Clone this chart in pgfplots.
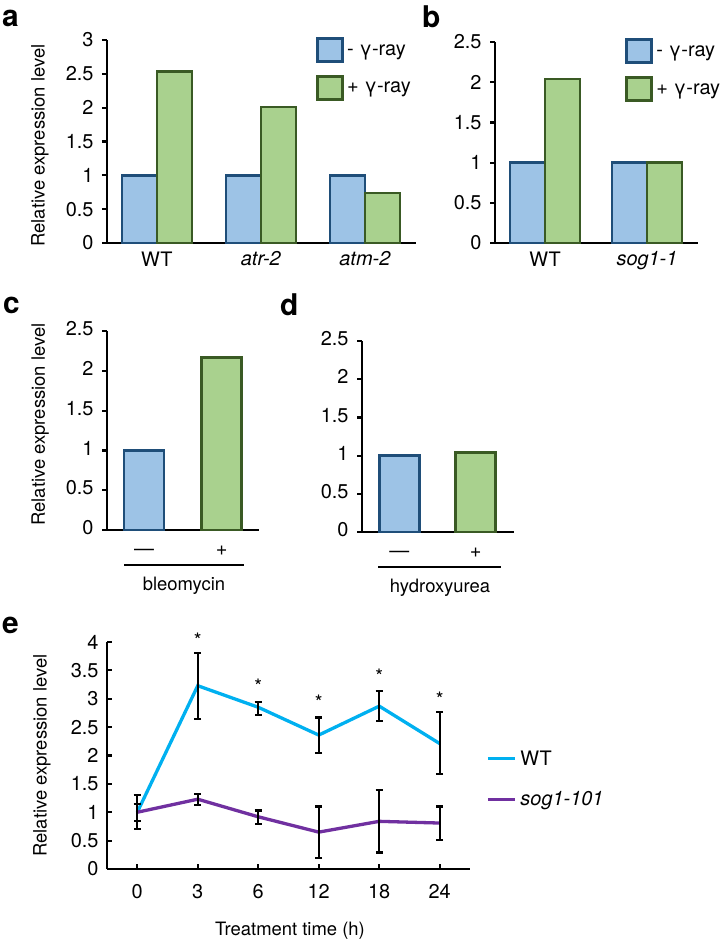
\documentclass[border=0pt]{standalone}
\usepackage{pgfplots}
\pgfplotsset{compat=1.18}
\usepackage{pgfplotstable}
\usepackage{fontspec}
\setmainfont{TeX Gyre Heros}

\definecolor{barblue}{HTML}{9DC3E6}
\definecolor{edgeblue}{HTML}{1F4E79}
\definecolor{bargreen}{HTML}{A9D18E}
\definecolor{edgegreen}{HTML}{3A5A24}
\definecolor{wtcyan}{HTML}{00B0F0}
\definecolor{sogpurple}{HTML}{7030A0}

\newcommand{\lbl}{\fontsize{18.5}{22}\selectfont}
\newcommand{\tck}{\fontsize{20}{24}\selectfont}
\newcommand{\panelfont}{\bfseries\fontsize{30}{32}\selectfont}

% time course: index, mean, error up, error down
\pgfplotstableread{
t y ep em
0 1.00 0.15 0.15
1 3.23 0.58 0.58
2 2.85 0.09 0.14
3 2.36 0.31 0.31
4 2.87 0.27 0.26
5 2.21 0.56 0.54
}\wtdata
\pgfplotstableread{
t y ep em
0 1.00 0.30 0.29
1 1.23 0.09 0.10
2 0.92 0.11 0.13
3 0.65 0.45 0.45
4 0.84 0.55 0.55
5 0.81 0.29 0.30
}\sogdata

\pgfplotsset{
  panel/.style={
    scale only axis, anchor=south west,
    axis x line*=bottom, axis y line*=left,
    axis line style={line width=2.8bp, black},
    every tick/.style={black, line width=2.2bp},
    major tick length=5bp,
    ymin=0, clip=false,
    /pgf/number format/assume math mode=true,
    tick label style={font=\tck},
    label style={font=\lbl},
    yticklabel style={xshift=-5bp},
  },
  bar panel/.style={
    panel, ybar, tick align=outside,
    major x tick style={draw=none},
    bar width=35bp,
  },
  minus bar/.style={fill=barblue, draw=edgeblue, line width=2.8bp},
  plus bar/.style={fill=bargreen, draw=edgegreen, line width=2.8bp},
  bar key/.style={
    legend image code/.code={\draw[##1] (0bp,-11bp) rectangle (25bp,12bp);},
    legend style={draw=none, fill=none, font=\tck, inner sep=0pt,
      row sep=12bp, legend cell align=left,
      nodes={inner sep=3.5bp}},
  },
  trace key/.style={
    legend image code/.code={\draw[##1] (0bp,0bp) -- (27bp,0bp);},
    legend style={draw=none, fill=none, font=\tck, inner sep=0pt,
      row sep=17bp, legend cell align=left, nodes={inner sep=4bp}},
  },
}

\begin{document}
\begin{tikzpicture}
\useasboundingbox (0bp,0bp) rectangle (724bp,-944bp);

% ---- a: gamma-ray response in checkpoint mutants
\begin{axis}[bar panel, at={(107bp,-243bp)}, width=309bp, height=203bp,
  xmin=-0.48, xmax=2.49, ymax=3, ytick={0,0.5,...,3},
  xtick={0,1,2}, xticklabels={WT,\textit{atr-2},\textit{atm-2}},
  ylabel={Relative expression level},
  ylabel style={at={(axis description cs:-0.217,0.48)}, anchor=center},
  bar key, legend style={at={(0.675,1.015)}, anchor=north west}]
\addplot[minus bar, bar shift=-17.5bp] coordinates {(0,1) (1,1) (2,1)};
\addlegendentry{- γ-ray}
\addplot[plus bar, bar shift=17.5bp] coordinates {(0,2.54) (1,2.01) (2,0.74)};
\addlegendentry{+ γ-ray}
\end{axis}

% ---- b: sog1-1
\begin{axis}[bar panel, at={(495bp,-243bp)}, width=203bp, height=201bp,
  xmin=-0.49, xmax=1.5, ymax=2.5, ytick={0,0.5,...,2.5},
  xtick={0,1}, xticklabels={WT,\textit{sog1-1}},
  bar key, legend style={at={(0.64,1.02)}, anchor=north west}]
\addplot[minus bar, bar shift=-17.5bp] coordinates {(0,1) (1,1)};
\addlegendentry{- γ-ray}
\addplot[plus bar, bar shift=17.5bp] coordinates {(0,2.04) (1,1.0)};
\addlegendentry{+ γ-ray}
\end{axis}

% ---- c: bleomycin
\begin{axis}[bar panel, at={(107bp,-530bp)}, width=152bp, height=199bp,
  bar width=40bp,
  xmin=-0.477, xmax=1.48, ymax=2.5, ytick={0,0.5,...,2.5},
  xtick={0,1}, xticklabels={—,+}, typeset ticklabels with strut,
  ylabel={Relative expression level},
  ylabel style={at={(axis description cs:-0.44,0.53)}, anchor=center}]
\addplot[minus bar, bar shift=0pt] coordinates {(0,1)};
\addplot[plus bar, bar shift=0pt] coordinates {(1,2.17)};
\end{axis}

% ---- d: hydroxyurea
\begin{axis}[bar panel, at={(362bp,-532bp)}, width=152bp, height=191bp,
  bar width=40bp,
  xmin=-0.49, xmax=1.5, ymax=2.5, ytick={0,0.5,...,2.5},
  xtick={0,1}, xticklabels={—,+}, typeset ticklabels with strut]
\addplot[minus bar, bar shift=0pt] coordinates {(0,1)};
\addplot[plus bar, bar shift=0pt] coordinates {(1,1.04)};
\end{axis}

% treatment brackets under c and d
\draw[line width=2.2bp] (124bp,-565bp) -- (244bp,-565bp);
\node[font=\lbl] at (184bp,-586bp) {bleomycin};
\draw[line width=2.2bp] (378bp,-567bp) -- (501bp,-567bp);
\node[font=\lbl] at (440bp,-588bp) {hydroxyurea};

% ---- e: time course after treatment
\begin{axis}[panel, at={(107bp,-869bp)}, width=363bp, height=227bp,
  tick align=inside,
  xmin=-0.5, xmax=5.5, ymax=4, ytick={0,0.5,...,4},
  xtick={0,...,5}, xticklabels={0,3,6,12,18,24},
  xticklabel style={yshift=-12bp},
  xlabel={Treatment time (h)},
  xlabel style={at={(axis description cs:0.504,-0.27)}, anchor=center},
  ylabel={Relative expression level},
  ylabel style={at={(axis description cs:-0.179,0.5)}, anchor=center},
  trace key, legend style={at={(1.044,0.397)}, anchor=west}]
\addplot[wtcyan, line width=3.3bp, mark=none,
  error bars/.cd, y dir=both, y explicit,
  error bar style={black, line width=2.2bp},
  error mark options={black, rotate=90, mark size=3.5bp, line width=2.2bp}]
  table[x=t, y=y, y error plus=ep, y error minus=em] {\wtdata};
\addlegendentry{WT}
\addplot[sogpurple, line width=3.3bp, mark=none,
  error bars/.cd, y dir=both, y explicit,
  error bar style={black, line width=2.2bp},
  error mark options={black, rotate=90, mark size=3.5bp, line width=2.2bp}]
  table[x=t, y=y, y error plus=ep, y error minus=em] {\sogdata};
\addlegendentry{\textit{sog1-101}}
% significance marks
\node[font=\tck] at (axis cs:1,4.03) {*};
\node[font=\tck] at (axis cs:2,3.22) {*};
\node[font=\tck] at (axis cs:3,2.94) {*};
\node[font=\tck] at (axis cs:4,3.40) {*};
\node[font=\tck] at (axis cs:5,3.00) {*};
\end{axis}

% panel letters
\node[font=\panelfont, anchor=base west, inner sep=0pt] at (2bp,-26bp) {a};
\node[font=\panelfont, anchor=base west, inner sep=0pt] at (422bp,-27bp) {b};
\node[font=\panelfont, anchor=base west, inner sep=0pt] at (3bp,-313bp) {c};
\node[font=\panelfont, anchor=base west, inner sep=0pt] at (280bp,-315bp) {d};
\node[font=\panelfont, anchor=base west, inner sep=0pt] at (2bp,-633bp) {e};
\end{tikzpicture}
\end{document}
